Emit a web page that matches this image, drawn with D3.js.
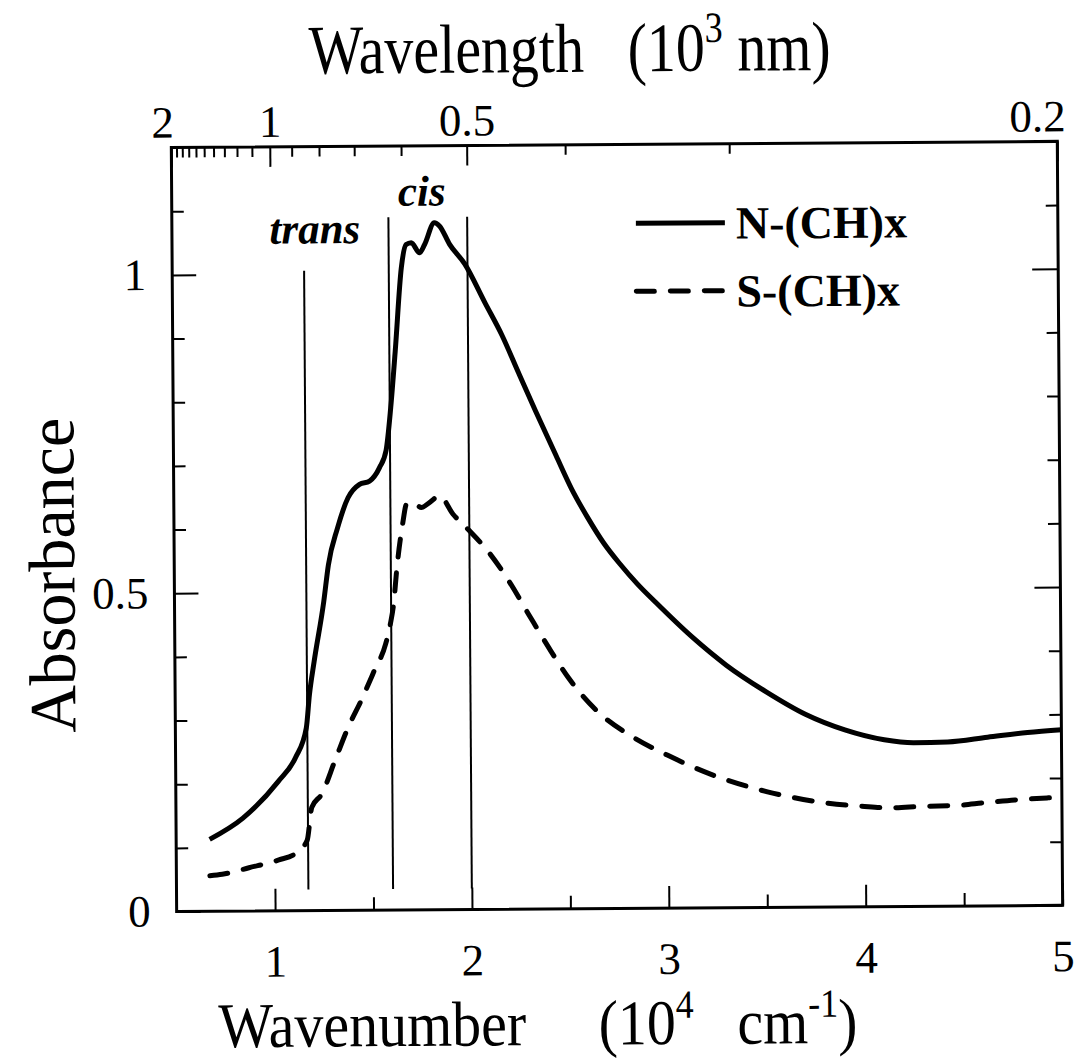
<!DOCTYPE html>
<html>
<head>
<meta charset="utf-8">
<script src="https://cdn.jsdelivr.net/npm/d3@7"></script>
<style>
  body { margin: 0; background: #fff; }
  svg text { font-family: "Liberation Serif", "Times New Roman", serif; fill: #000; }
</style>
</head>
<body>
<script>
// N-(CH)x, solid line (wavenumber in 10^4 cm^-1, absorbance)
var nWave = [0.67, 0.84, 1.02, 1.11, 1.165, 1.182, 1.207, 1.258, 1.283, 1.33, 1.385, 1.444, 1.495, 1.546, 1.58, 1.605, 1.63, 1.664, 1.689, 1.715, 1.757, 1.783, 1.833, 1.859, 1.91, 1.986, 2.087, 2.172, 2.256, 2.341, 2.443, 2.52, 2.6, 2.68, 2.764, 2.85, 2.945, 3.126, 3.3, 3.5, 3.7, 3.9, 4.1, 4.25, 4.422, 4.625, 4.828, 5.0];
var nAbs  = [0.113, 0.146, 0.203, 0.241, 0.287, 0.339, 0.391, 0.485, 0.543, 0.6, 0.648, 0.669, 0.674, 0.695, 0.722, 0.789, 0.878, 1.009, 1.045, 1.048, 1.032, 1.045, 1.079, 1.074, 1.045, 1.014, 0.953, 0.902, 0.842, 0.782, 0.712, 0.66, 0.615, 0.575, 0.541, 0.51, 0.48, 0.426, 0.381, 0.339, 0.303, 0.278, 0.262, 0.257, 0.258, 0.265, 0.272, 0.276];

// S-(CH)x, dashed line
var sWave = [0.67, 0.733, 0.869, 1.021, 1.106, 1.165, 1.19, 1.241, 1.309, 1.377, 1.444, 1.512, 1.571, 1.596, 1.613, 1.63, 1.664, 1.681, 1.715, 1.757, 1.8, 1.85, 1.918, 2.003, 2.1, 2.2, 2.3, 2.4, 2.5, 2.637, 2.818, 3.0, 3.2, 3.5, 3.813, 3.982, 4.135, 4.287, 4.456, 4.608, 4.761, 4.93, 5.0];
var sAbs  = [0.056, 0.058, 0.068, 0.08, 0.09, 0.11, 0.162, 0.183, 0.235, 0.287, 0.329, 0.376, 0.418, 0.45, 0.481, 0.535, 0.611, 0.637, 0.64, 0.632, 0.64, 0.65, 0.621, 0.594, 0.56, 0.515, 0.462, 0.41, 0.362, 0.312, 0.27, 0.24, 0.212, 0.182, 0.163, 0.158, 0.155, 0.157, 0.158, 0.162, 0.166, 0.169, 0.17];

// marker lines (wavenumber, top in absorbance units)
var markWave = [1.17, 1.6, 2.0];
var markTop  = [1.005, 1.088, 1.088];

// ticks
var xMajor = [1, 2, 3, 4, 5];
var xMinor = [1.5, 2.5, 3.5, 4.5];
var yMajor = [0, 0.5, 1];
var yMinor = [0.1, 0.2, 0.3, 0.4, 0.6, 0.7, 0.8, 0.9, 1.1];
var lamMajor = [2, 1, 0.5, 0.2];
var lamMinor = [1.9, 1.8, 1.7, 1.6, 1.5, 1.4, 1.3, 1.2, 1.1, 0.9, 0.8, 0.7, 0.6, 0.4, 0.3];
var lamLabels = ["2", "1", "0.5", "0.2"];

var legendNames = ["N-(CH)x", "S-(CH)x"];

var width = 1080, height = 1060;
var margin = {top: 145, right: 20, bottom: 151, left: 174};
var innerW = 1060 - margin.left, innerH = 909 - margin.top;

var svg = d3.select("body").append("svg")
    .attr("width", width)
    .attr("height", height);

// the scanned figure is tilted a little
var root = svg.append("g").attr("transform", "rotate(-0.4, 540, 530)");
var g = root.append("g").attr("transform", "translate(" + margin.left + "," + margin.top + ")");

var x = d3.scaleLinear().domain([0.5, 5]).range([0, innerW]);
var y = d3.scaleLinear().domain([0, 1.2]).range([innerH, 0]);
// wavelength (10^3 nm) = 1 / wavenumber (10^4 cm^-1)
var xTop = d3.scalePow().exponent(-1).domain([2, 0.2]).range([0, innerW]);

function styleAxis(sel) {
  sel.select(".domain").remove();
  sel.selectAll("line").attr("stroke", "#000").attr("stroke-width", 2);
  sel.selectAll("text").style("font-size", "45px").attr("fill", "#000");
}

// bottom axis
g.append("g").attr("transform", "translate(0," + innerH + ")")
  .call(d3.axisBottom(x).tickValues(xMajor).tickSize(-22).tickPadding(34).tickFormat(d3.format("d")))
  .call(styleAxis);
g.append("g").attr("transform", "translate(0," + innerH + ")")
  .call(d3.axisBottom(x).tickValues(xMinor).tickSize(-13).tickFormat(""))
  .call(styleAxis);

// left axis
g.append("g")
  .call(d3.axisLeft(y).tickValues(yMajor).tickSize(-24).tickPadding(26).tickFormat(d3.format("")))
  .call(styleAxis);
g.append("g")
  .call(d3.axisLeft(y).tickValues(yMinor).tickSize(-12).tickFormat(""))
  .call(styleAxis);

// right axis
g.append("g").attr("transform", "translate(" + innerW + ",0)")
  .call(d3.axisRight(y).tickValues(yMajor).tickSize(-26).tickFormat(""))
  .call(styleAxis);
g.append("g").attr("transform", "translate(" + innerW + ",0)")
  .call(d3.axisRight(y).tickValues(yMinor).tickSize(-12).tickFormat(""))
  .call(styleAxis);

// top axis (wavelength)
var topAx = g.append("g")
  .call(d3.axisTop(xTop).tickValues(lamMajor).tickSize(-20).tickPadding(10)
    .tickFormat(function(d, i) { return lamLabels[i]; }))
  .call(styleAxis);
topAx.selectAll("text").attr("dx", function(d) {
  if (d === 2) return -9;
  if (d === 0.2) return -20;
  return 0;
});
g.append("g")
  .call(d3.axisTop(xTop).tickValues(lamMinor).tickSize(-10).tickFormat(""))
  .call(styleAxis);

// frame
g.append("rect")
  .attr("width", innerW)
  .attr("height", innerH)
  .attr("fill", "none")
  .attr("stroke", "#000")
  .attr("stroke-width", 3);

// marker lines
g.selectAll(".mark")
  .data(markWave)
  .enter().append("line")
  .attr("class", "mark")
  .attr("x1", function(d) { return x(d); })
  .attr("x2", function(d) { return x(d); })
  .attr("y1", function(d, i) { return y(markTop[i]); })
  .attr("y2", y(0.033))
  .attr("stroke", "#000")
  .attr("stroke-width", 2);

g.append("text")
  .attr("x", x(1.226))
  .attr("y", y(1.048))
  .attr("text-anchor", "middle")
  .style("font-size", "43px")
  .style("font-weight", "bold")
  .style("font-style", "italic")
  .text("trans");
g.append("text")
  .attr("x", x(1.77))
  .attr("y", y(1.106))
  .attr("text-anchor", "middle")
  .style("font-size", "43px")
  .style("font-weight", "bold")
  .style("font-style", "italic")
  .text("cis");

// curves
var line = d3.line()
  .x(function(d) { return x(d[0]); })
  .y(function(d) { return y(d[1]); })
  .curve(d3.curveMonotoneX);

var nData = nWave.map(function(d, i) { return [d, nAbs[i]]; });
var sData = sWave.map(function(d, i) { return [d, sAbs[i]]; });

g.append("path")
  .datum(nData)
  .attr("d", line)
  .attr("fill", "none")
  .attr("stroke", "#000")
  .attr("stroke-width", 5)
  .attr("stroke-linejoin", "round");

g.append("path")
  .datum(sData)
  .attr("d", line)
  .attr("fill", "none")
  .attr("stroke", "#000")
  .attr("stroke-width", 5)
  .attr("stroke-linecap", "round")
  .attr("stroke-dasharray", "18,16");

// legend
var legend = g.selectAll(".legend")
  .data(legendNames)
  .enter().append("g")
  .attr("class", "legend")
  .attr("transform", function(d, i) { return "translate(" + (638 - margin.left) + "," + (224 - margin.top + i * 68) + ")"; });

legend.append("line")
  .attr("x1", 0).attr("x2", 89)
  .attr("stroke", "#000")
  .attr("stroke-width", 5)
  .attr("stroke-linecap", function(d, i) { return i ? "round" : "butt"; })
  .attr("stroke-dasharray", function(d, i) { return i ? "18,16" : null; });

legend.append("text")
  .attr("x", 100)
  .attr("y", 16)
  .style("font-size", "46px")
  .style("font-weight", "bold")
  .text(function(d) { return d; });

// axis titles (the scan stretches them a bit vertically)
var topTitle = root.append("text")
  .attr("transform", "translate(573,72) scale(1,1.2)")
  .attr("text-anchor", "middle")
  .style("font-size", "58px");
topTitle.append("tspan").text("Wavelength\u00a0\u00a0\u00a0(10");
topTitle.append("tspan").attr("dy", -24).style("font-size", "36px").text("3");
topTitle.append("tspan").attr("dy", 24).text(" nm)");

var botTitle = root.append("text")
  .attr("transform", "translate(215,1045) scale(1,1.1)")
  .style("font-size", "58px");
botTitle.append("tspan").text("Wavenumber\u00a0\u00a0\u00a0\u00a0\u00a0(10");
botTitle.append("tspan").attr("dy", -24).style("font-size", "36px").text("4");
botTitle.append("tspan").attr("dy", 24).text("\u00a0\u00a0\u00a0cm");
botTitle.append("tspan").attr("dy", -24).style("font-size", "36px").text("-1");
botTitle.append("tspan").attr("dy", 24).text(")");

root.append("text")
  .attr("transform", "translate(74,572) rotate(-90)")
  .attr("text-anchor", "middle")
  .style("font-size", "66px")
  .text("Absorbance");
</script>
</body>
</html>
